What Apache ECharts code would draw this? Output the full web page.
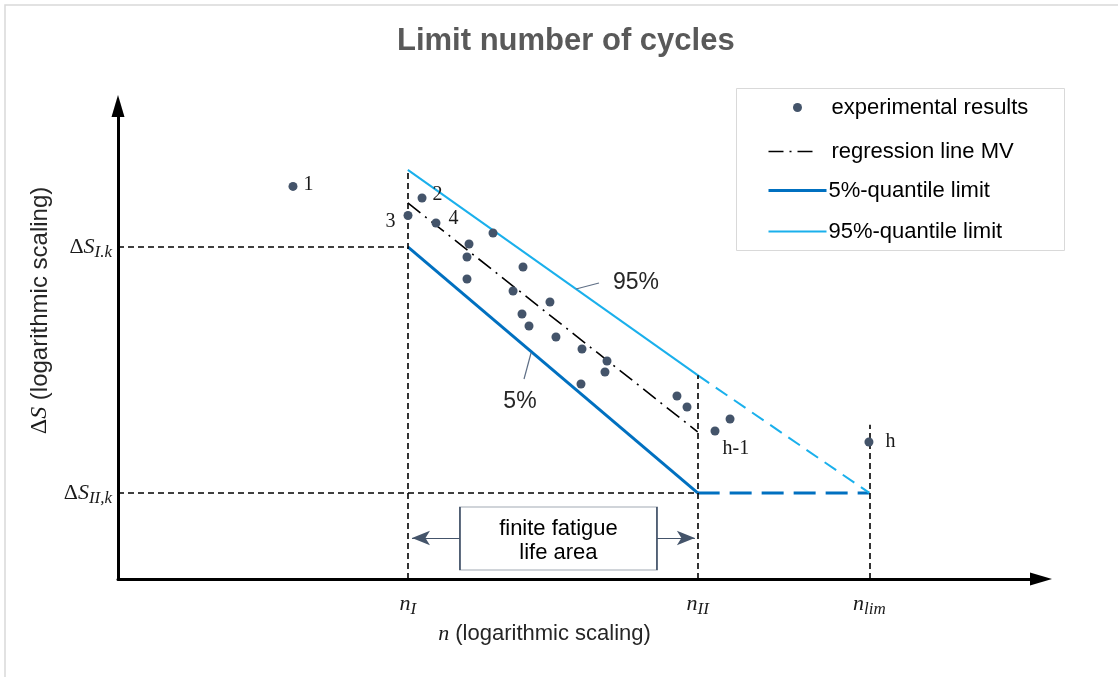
<!DOCTYPE html>
<html>
<head>
<meta charset="utf-8">
<script src="https://cdn.jsdelivr.net/npm/echarts@6/dist/echarts.min.js"></script>
<style>html,body{margin:0;padding:0;background:#fff;}#c{width:1118px;height:677px;}</style>
</head>
<body>
<div id="c"></div>
<script>
// ---------- data (schematic, log-scaled units) ----------
var xMax = 100, yMax = 100;
var nI = 31.4, nII = 62.8, nLim = 81.4;
var dS_I = 70.2, dS_II = 18.2;
var xTicks = [nI, nII, nLim];
var xTickSubs = ['I', 'II', 'lim'];
var yTicks = [dS_I, dS_II];
var yTickSubs = ['I.k', 'II,k'];

var expX = [18.96, 32.94, 31.42, 34.45, 40.63, 38.03, 37.81, 37.81, 43.88, 42.80, 46.80, 43.77, 44.53, 47.45, 50.27, 52.98, 52.76, 50.16, 60.56, 61.65, 64.68, 66.31, 81.36];
var expY = [83.0, 80.55, 76.85, 75.26, 73.15, 70.82, 68.08, 63.42, 65.96, 60.89, 58.56, 56.03, 53.49, 51.16, 48.63, 46.09, 43.76, 41.23, 38.69, 36.36, 31.29, 33.83, 28.96];
var expLabels = ['1', '2', '3', '4', '', '', '', '', '', '', '', '', '', '', '', '', '', '', '', '', 'h-1', '', 'h'];

var regX = [nI, nII];
var regY = [79.5, 31.1];
var q5X = [nI, nII];
var q5Y = [dS_I, dS_II];
var q5ExtX = [nII, nLim];
var q5ExtY = [dS_II, dS_II];
var q95X = [nI, nII];
var q95Y = [86.5, 43.1];
var q95ExtX = [nII, nLim];
var q95ExtY = [43.1, dS_II];
var nLimGuideTop = 32.6;

var boxCenter = [47.72, 8.56];
var arrowY = 8.67;
var arrowLeft = [37.05, 31.85];
var arrowRight = [58.4, 62.5];

var annText = ['95%', '5%'];
var annPos = [[56.12, 62.58], [43.55, 37.42]];
var annLeaderFrom = [[49.62, 61.31], [44.75, 47.78]];
var annLeaderTo = [[52.11, 62.58], [43.99, 42.28]];

// ---------- styles ----------
var SERIF = 'Liberation Serif';
var SANS = 'Liberation Sans';
var DOT = '#44546A';
var BLUE5 = '#0070C0';
var BLUE95 = '#1AB0EC';

var labelCfg = {
  '1': {position: 'right', distance: 6, offset: [0, -2]},
  '2': {position: 'right', distance: 6, offset: [0, -3]},
  '3': {position: 'left', distance: 8, offset: [0, 6]},
  '4': {position: 'right', distance: 8, offset: [0, -4]},
  'h-1': {position: 'right', distance: 3, offset: [0, 18]},
  'h': {position: 'right', distance: 12, offset: [0, 0]}
};

var expData = expX.map(function (x, i) {
  var d = {value: [x, expY[i]]};
  var lab = expLabels[i];
  if (lab) {
    var c = labelCfg[lab];
    d.label = {show: true, formatter: lab, position: c.position, distance: c.distance, offset: c.offset,
      fontFamily: SERIF, fontSize: 20, color: '#1a1a1a'};
  }
  return d;
});
function pairs(xs, ys) { return xs.map(function (x, i) { return [x, ys[i]]; }); }

var subRich = {
  n: {fontFamily: SERIF, fontStyle: 'italic', fontSize: 22, color: '#1a1a1a'},
  d: {fontFamily: SERIF, fontSize: 22, color: '#1a1a1a'},
  s: {fontFamily: SERIF, fontStyle: 'italic', fontSize: 22, color: '#1a1a1a'},
  sub: {fontFamily: SERIF, fontStyle: 'italic', fontSize: 17, color: '#1a1a1a', padding: [11, 0, 0, 0]},
  t: {fontFamily: SANS, fontSize: 22, color: '#262626'}
};
var yNameRich = {
  d: {fontFamily: SERIF, fontSize: 24, color: '#1a1a1a'},
  s: {fontFamily: SERIF, fontStyle: 'italic', fontSize: 24, color: '#1a1a1a'},
  t: {fontFamily: SANS, fontSize: 24, color: '#262626'}
};

var guideLines = [
  [[0, dS_I], [nI, dS_I]],
  [[0, dS_II], [nII, dS_II]],
  [[nI, 0], [nI, q95Y[0]]],
  [[nII, 0], [nII, q95ExtY[0]]],
  [[nLim, 0], [nLim, nLimGuideTop]]
];

var chart = echarts.init(document.getElementById('c'), null, {renderer: 'canvas'});
var option = {
  backgroundColor: '#fff',
  animation: false,
  title: {
    text: 'Limit number of cycles', left: 392, top: 21,
    textStyle: {fontFamily: SANS, fontSize: 31, fontWeight: 'bold', color: '#595959'}
  },
  grid: {left: 118, right: 77, top: 106, bottom: 98},
  xAxis: {
    type: 'value', min: 0, max: xMax,
    splitLine: {show: false},
    axisTick: {show: false},
    axisLine: {lineStyle: {color: '#000', width: 3}, symbol: ['none', 'triangle'], symbolSize: [13, 22]},
    axisLabel: {
      customValues: xTicks, margin: 11,
      formatter: function (v) {
        var i = xTicks.indexOf(v);
        return '{n|n}{sub|' + xTickSubs[i] + '}';
      },
      rich: subRich
    },
    name: '{n|n}{t| (logarithmic scaling)}',
    nameLocation: 'middle', nameGap: 44,
    nameTextStyle: {padding: [0, 70, 0, 0], rich: subRich}
  },
  yAxis: {
    type: 'value', min: 0, max: yMax,
    splitLine: {show: false},
    axisTick: {show: false},
    axisLine: {lineStyle: {color: '#000', width: 3}, symbol: ['none', 'triangle'], symbolSize: [13, 22]},
    axisLabel: {
      customValues: yTicks, margin: 6,
      formatter: function (v) {
        var i = yTicks.indexOf(v);
        return '{d|Δ}{s|S}{sub|' + yTickSubs[i] + '}';
      },
      rich: subRich
    },
    name: '{d|Δ}{s|S}{t| (logarithmic scaling)}',
    nameLocation: 'middle', nameGap: 66, nameRotate: 90,
    nameTextStyle: {padding: [0, 0, 0, 64], rich: yNameRich}
  },
  series: [
    {
      name: 'guides', type: 'line', data: [], silent: true,
      markLine: {
        silent: true, symbol: ['none', 'none'], label: {show: false},
        lineStyle: {color: '#000', type: [6, 4], width: 1.6},
        data: guideLines.map(function (g) { return [{coord: g[0]}, {coord: g[1]}]; })
      }
    },
    {
      name: 'regression line MV', type: 'line', data: pairs(regX, regY), symbol: 'none', silent: true,
      lineStyle: {color: '#000', width: 1.6, type: [16, 6, 2, 6]}, z: 3
    },
    {
      name: '5%-quantile limit', type: 'line', data: pairs(q5X, q5Y), symbol: 'none', silent: true,
      lineStyle: {color: BLUE5, width: 3}, z: 3
    },
    {
      name: '5% ext', type: 'line', data: pairs(q5ExtX, q5ExtY), symbol: 'none', silent: true,
      lineStyle: {color: BLUE5, width: 3, type: [22, 10]}, z: 3
    },
    {
      name: '95%-quantile limit', type: 'line', data: pairs(q95X, q95Y), symbol: 'none', silent: true,
      lineStyle: {color: BLUE95, width: 2}, z: 3
    },
    {
      name: '95% ext', type: 'line', data: pairs(q95ExtX, q95ExtY), symbol: 'none', silent: true,
      lineStyle: {color: BLUE95, width: 2, type: [14, 8]}, z: 3
    },
    {
      name: 'arrows', type: 'line', data: [], silent: true,
      markLine: {
        silent: true, symbol: ['none', 'arrow'], symbolSize: [11, 18], label: {show: false},
        lineStyle: {color: DOT, type: 'solid', width: 1},
        data: [
          [{coord: [arrowLeft[0], arrowY]}, {coord: [arrowLeft[1], arrowY]}],
          [{coord: [arrowRight[0], arrowY]}, {coord: [arrowRight[1], arrowY]}]
        ]
      }
    },
    {
      name: 'finite fatigue life area', type: 'scatter', silent: true, z: 5,
      data: [boxCenter], symbol: 'rect', symbolSize: [197, 63],
      itemStyle: {color: '#fff', borderColor: DOT, borderWidth: 1, opacity: 1},
      label: {show: true, position: 'inside', formatter: 'finite fatigue\nlife area', offset: [0, 2],
        fontFamily: SANS, fontSize: 22, lineHeight: 24, color: '#000'}
    },
    {
      name: 'annotation leaders', type: 'line', data: [], silent: true,
      markLine: {
        silent: true, symbol: ['none', 'none'], label: {show: false},
        lineStyle: {color: '#5f6f86', type: 'solid', width: 1.2},
        data: annLeaderFrom.map(function (f, i) { return [{coord: f}, {coord: annLeaderTo[i]}]; })
      }
    },
    {
      name: 'annotations', type: 'scatter', silent: true, symbolSize: 0,
      itemStyle: {opacity: 1},
      data: annPos.map(function (p, i) { return {value: p, name: annText[i]}; }),
      label: {show: true, position: 'inside', formatter: '{b}', fontFamily: SANS, fontSize: 23, color: '#262626'}
    },
    {
      name: 'experimental results', type: 'scatter', data: expData, symbol: 'circle', symbolSize: 9,
      itemStyle: {color: DOT, opacity: 1}, z: 6, silent: true
    }
  ],
  graphic: [
    {type: 'rect', shape: {x: 5, y: 5, width: 1300, height: 1300}, style: {fill: 'none', stroke: '#d9d9d9', lineWidth: 1.5}, silent: true},
    {type: 'group', left: 736, top: 88, silent: true, children: [
      {type: 'rect', shape: {x: 0, y: 0, width: 328, height: 162}, style: {fill: '#fff', stroke: '#d9d9d9', lineWidth: 1}},
      {type: 'circle', shape: {cx: 61, cy: 19, r: 4.5}, style: {fill: DOT}},
      {type: 'text', x: 95, y: 19, style: {text: 'experimental results', font: '22px "Liberation Sans"', fill: '#000', verticalAlign: 'middle'}},
      {type: 'line', shape: {x1: 32, y1: 63, x2: 82, y2: 63}, style: {stroke: '#000', lineWidth: 1.6, lineDash: [15, 6, 2, 6]}},
      {type: 'text', x: 95, y: 63, style: {text: 'regression line MV', font: '22px "Liberation Sans"', fill: '#000', verticalAlign: 'middle'}},
      {type: 'line', shape: {x1: 32, y1: 102, x2: 90, y2: 102}, style: {stroke: BLUE5, lineWidth: 3}},
      {type: 'text', x: 92, y: 102, style: {text: '5%-quantile limit', font: '22px "Liberation Sans"', fill: '#000', verticalAlign: 'middle'}},
      {type: 'line', shape: {x1: 32, y1: 143, x2: 90, y2: 143}, style: {stroke: BLUE95, lineWidth: 2}},
      {type: 'text', x: 92, y: 143, style: {text: '95%-quantile limit', font: '22px "Liberation Sans"', fill: '#000', verticalAlign: 'middle'}}
    ]}
  ]
};
chart.setOption(option);
</script>
</body>
</html>
